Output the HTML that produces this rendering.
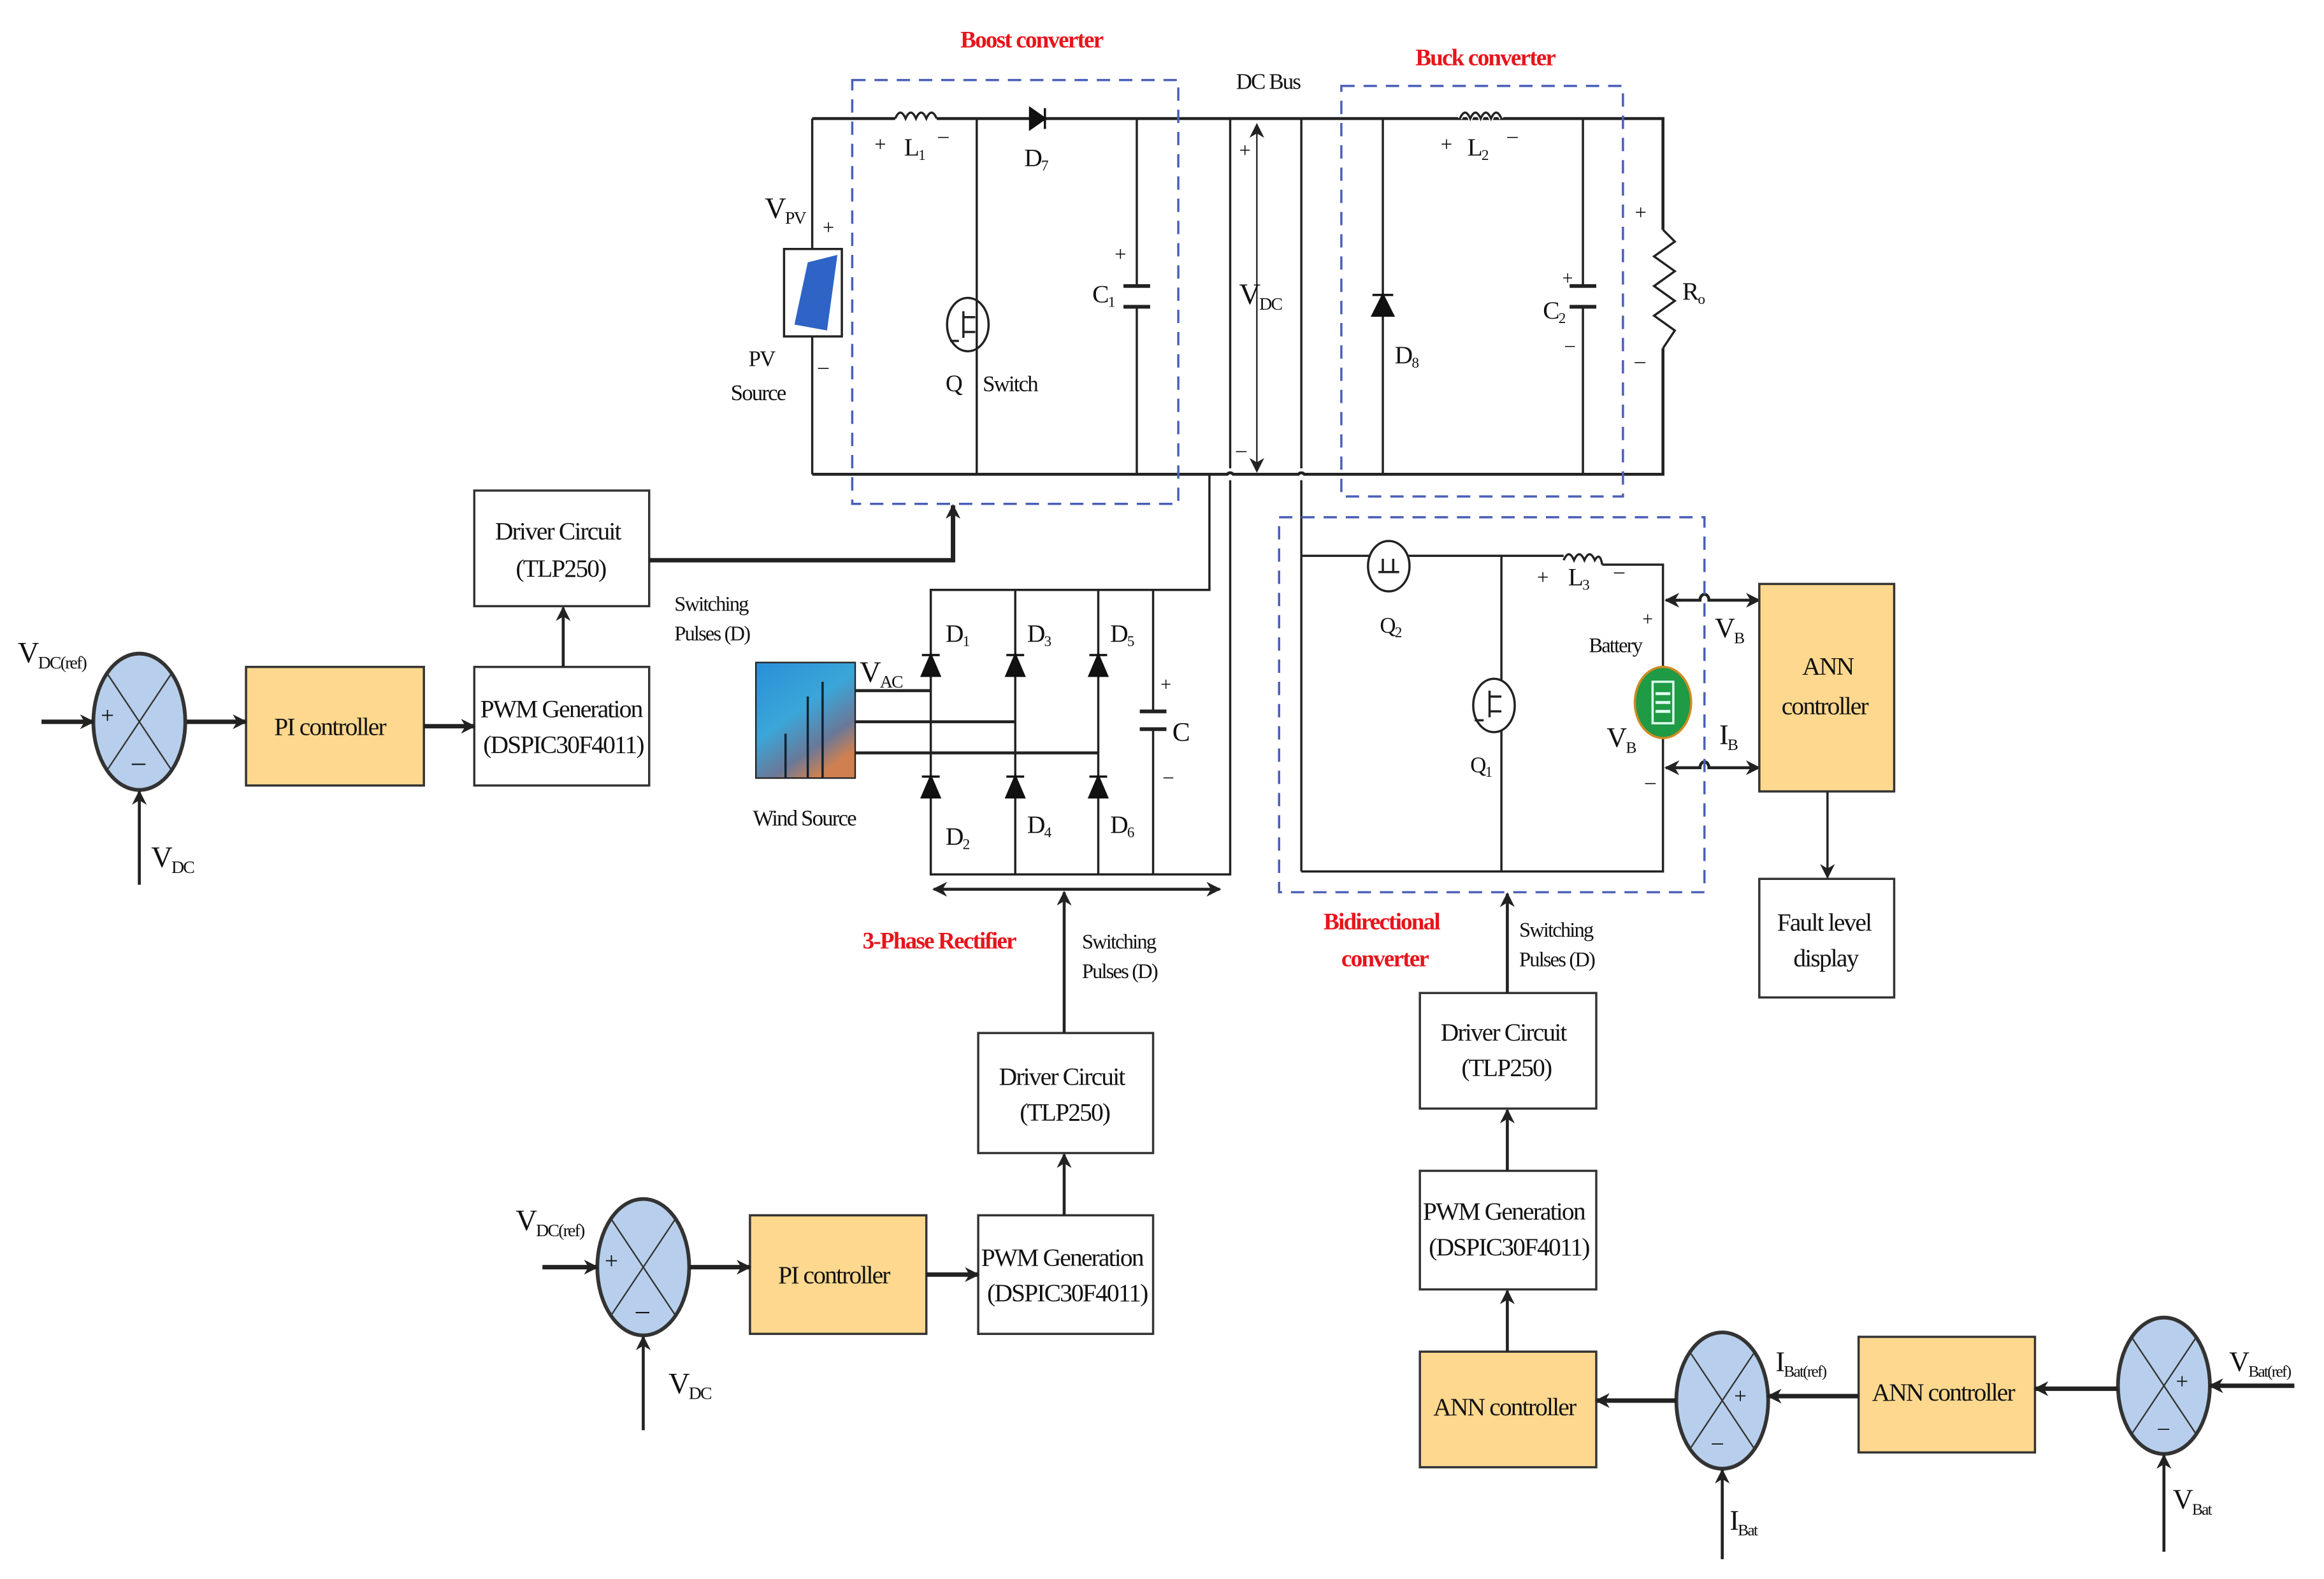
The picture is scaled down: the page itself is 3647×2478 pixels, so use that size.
<!DOCTYPE html>
<html><head><meta charset="utf-8"><style>
html,body{margin:0;padding:0;background:#fff;}
svg{display:block;}
text{font-family:"Liberation Serif",serif;fill:#111;}
.t{font-size:17px;letter-spacing:-0.8px;}
.r{fill:#e8141c;font-weight:bold;font-size:16px;letter-spacing:-0.8px;}
.s{font-size:10px;}
</style></head><body>
<svg width="3647" height="2478" viewBox="0 0 1568 1065.4" preserveAspectRatio="none" xmlns="http://www.w3.org/2000/svg">
<defs>
<marker id="a" markerWidth="10" markerHeight="10" refX="9" refY="5" orient="auto" markerUnits="userSpaceOnUse"><path d="M0,0 L10,5 L0,10 L3,5 z" fill="#222"/></marker>
<marker id="as" markerWidth="10" markerHeight="10" refX="1" refY="5" orient="auto" markerUnits="userSpaceOnUse"><path d="M10,0 L0,5 L10,10 L7,5 z" fill="#222"/></marker>
</defs>
<rect width="1568" height="1066" fill="#fff"/>
<g stroke="#222" fill="none" stroke-width="1.5">
<!-- top & bottom rails -->
<path d="M548,80 H604 M632,80 H1122 V155 M1122,235 V320 H880 A3,4 0 0 0 876,320 H832 A3,4 0 0 0 828,320 H548" stroke-width="2"/>
<path d="M548,80 V168 M548,227 V320" stroke-width="1.5"/>
<!-- L1 -->
<path d="M604,80 q3.5,-8 7,0 q3.5,-8 7,0 q3.5,-8 7,0 q3.5,-8 7,0" stroke-width="1.5"/>
<!-- Q boost -->
<line x1="659" y1="80" x2="659" y2="320"/>
<ellipse cx="653" cy="219" rx="14" ry="18"/>
<path d="M650,210 v18 M647,230 h-6 M650,214 h8 M650,224 h8"/>
<!-- C1 -->
<path d="M767,80 V193 M767,207 V320"/>
<path d="M758,193 h18 M758,207 h18" stroke-width="2.5"/>
<!-- DC bus lines -->
<path d="M830,80 V316 M830,324 V590 H816 M816,320 V398 H628 V590 H828" />
<path d="M878,80 V316 M878,324 V588"/>
<!-- VDC arrow -->
<line x1="848" y1="84" x2="848" y2="318" marker-start="url(#as)" marker-end="url(#a)" stroke-width="1"/>
<!-- buck -->
<path d="M933,80 V320 M1068,80 V193 M1068,207 V320"/>
<path d="M1059,193 h18 M1059,207 h18" stroke-width="2.5"/>
<path d="M985,80 q3.5,-8 7,0 q3.5,-8 7,0 q3.5,-8 7,0 q3.5,-8 7,0" stroke="#fff" stroke-width="3"/>
<path d="M985,80 q3.5,-8 7,0 q3.5,-8 7,0 q3.5,-8 7,0 q3.5,-8 7,0"/>
<path d="M1122,155 l8,8 l-14,10 l14,10 l-14,10 l14,10 l-14,10 l14,10 l-8,12" />
<!-- rectifier -->
<path d="M685,398 V590 M741,398 V590 M778,398 V480 M778,492 V590"/>
<path d="M769,480 h18 M769,492 h18" stroke-width="2.5"/>
<path d="M577,466 H628 M577,487 H685 M577,508 H741" stroke-width="2"/>
<line x1="630" y1="600" x2="823" y2="600" marker-start="url(#as)" marker-end="url(#a)" stroke-width="2"/>
<!-- bidirectional -->
<path d="M878,375 H1055 M1081,381 H1122 V588 H878"/>
<path d="M1055,378 q3.5,-8 7,0 q3.5,-8 7,0 q3.5,-8 7,0 q3.5,-6 5,3"/>
<ellipse cx="937" cy="382" rx="14" ry="17" fill="#fff"/>
<path d="M930,386 h14 M933,377 v9 M940,377 v9"/>
<path d="M1013,375 V588"/>
<ellipse cx="1008" cy="476" rx="14" ry="18" fill="#fff"/>
<path d="M1005,466 v18 M1001,486 h-6 M1005,470 h8 M1005,480 h8"/>
<!-- VB IB arrows -->
<path d="M1124,405 H1147 a3,4 0 0 1 6,0 H1187" stroke-width="2" marker-end="url(#a)"/>
<path d="M1124,405 h10" stroke-width="2" marker-start="url(#as)"/>
<path d="M1124,518 H1147 a3,4 0 0 1 6,0 H1187" stroke-width="2" marker-end="url(#a)"/>
<path d="M1124,518 h10" stroke-width="2" marker-start="url(#as)"/>
<!-- dashed boxes -->
<g stroke="#4a5fb8" stroke-dasharray="9,6" stroke-width="1.5">
<rect x="575" y="54" width="220" height="286"/>
<rect x="905" y="58" width="190" height="277"/>
<rect x="863" y="349" width="287" height="253"/>
</g>
</g>
<!-- diodes -->
<g fill="#111" stroke="#111" stroke-width="1.5">
<path d="M695,73 L705,80 L695,87 Z M705,73 V87"/>
<path d="M926,213 L933,199 L940,213 Z M926,199 H940"/>
<path d="M622,456 L628,442 L634,456 Z M622,442 H634"/>
<path d="M679,456 L685,442 L691,456 Z M679,442 H691"/>
<path d="M735,456 L741,442 L747,456 Z M735,442 H747"/>
<path d="M622,538 L628,524 L634,538 Z M622,524 H634"/>
<path d="M679,538 L685,524 L691,538 Z M679,524 H691"/>
<path d="M735,538 L741,524 L747,538 Z M735,524 H747"/>
</g>
<!-- PV panel -->
<rect x="529" y="168" width="39" height="59" fill="#fff" stroke="#222" stroke-width="1.5"/>
<path d="M545,177 L565,172 L558,223 L536,219 Z" fill="#2f64c6"/>
<!-- wind image -->
<defs><linearGradient id="w" x1="0" y1="0" x2="0.6" y2="1"><stop offset="0" stop-color="#2a8fd8"/><stop offset="0.5" stop-color="#3aa6d8"/><stop offset="0.8" stop-color="#6a7898"/><stop offset="1" stop-color="#d08050"/></linearGradient></defs>
<rect x="510" y="447" width="67" height="78" fill="url(#w)" stroke="#222"/>
<path d="M530,525 V495 M545,525 V470 M555,525 V460" stroke="#123" stroke-width="1.5"/>
<!-- battery -->
<ellipse cx="1122" cy="474" rx="19" ry="24" fill="#1f9a45" stroke="#d08a20" stroke-width="1.5"/>
<rect x="1115" y="460" width="14" height="28" fill="none" stroke="#dfe" stroke-width="1.5"/>
<path d="M1117,468 h10 M1117,474 h10 M1117,480 h10" stroke="#dfe" stroke-width="2"/>
<!-- blocks -->
<g stroke="#333" stroke-width="1.5">
<rect x="320" y="331" width="118" height="78" fill="#fff"/>
<rect x="320" y="450" width="118" height="80" fill="#fff"/>
<rect x="166" y="450" width="120" height="80" fill="#fdd88e"/>
<rect x="660" y="697" width="118" height="81" fill="#fff"/>
<rect x="660" y="820" width="118" height="80" fill="#fff"/>
<rect x="506" y="820" width="119" height="80" fill="#fdd88e"/>
<rect x="1187" y="394" width="91" height="140" fill="#fdd88e"/>
<rect x="1187" y="593" width="91" height="80" fill="#fff"/>
<rect x="958" y="670" width="119" height="78" fill="#fff"/>
<rect x="958" y="790" width="119" height="80" fill="#fff"/>
<rect x="958" y="912" width="119" height="78" fill="#fdd88e"/>
<rect x="1254" y="902" width="119" height="78" fill="#fdd88e"/>
</g>
<!-- summers -->
<g stroke="#333" stroke-width="2.5" fill="#b7cfec">
<ellipse cx="94" cy="487" rx="31" ry="46"/>
<ellipse cx="434" cy="855" rx="31" ry="46"/>
<ellipse cx="1162" cy="945" rx="31" ry="46"/>
<ellipse cx="1460" cy="935" rx="31" ry="46"/>
</g>
<g stroke="#333" stroke-width="1">
<path d="M72,454 L116,520 M116,454 L72,520"/>
<path d="M412,822 L456,888 M456,822 L412,888"/>
<path d="M1140,912 L1184,978 M1184,912 L1140,978"/>
<path d="M1438,902 L1482,968 M1482,902 L1438,968"/>
</g>
<!-- control arrows -->
<g stroke="#222" stroke-width="3" fill="none">
<line x1="28" y1="487" x2="63" y2="487" marker-end="url(#a)"/>
<line x1="126" y1="487" x2="166" y2="487" marker-end="url(#a)"/>
<line x1="286" y1="490" x2="320" y2="490" marker-end="url(#a)"/>
<line x1="366" y1="855" x2="403" y2="855" marker-end="url(#a)"/>
<line x1="465" y1="855" x2="506" y2="855" marker-end="url(#a)"/>
<line x1="625" y1="860" x2="660" y2="860" marker-end="url(#a)"/>
<line x1="1548" y1="935" x2="1491" y2="935" marker-end="url(#a)"/>
<line x1="1429" y1="937" x2="1373" y2="937" marker-end="url(#a)"/>
<line x1="1254" y1="942" x2="1193" y2="942" marker-end="url(#a)"/>
<line x1="1131" y1="945" x2="1077" y2="945" marker-end="url(#a)"/>
<path d="M438,378 H643 V341" marker-end="url(#a)"/>
</g>
<g stroke="#222" stroke-width="2" fill="none">
<line x1="94" y1="597" x2="94" y2="534" marker-end="url(#a)"/>
<line x1="434" y1="965" x2="434" y2="902" marker-end="url(#a)"/>
<line x1="1162" y1="1052" x2="1162" y2="992" marker-end="url(#a)"/>
<line x1="1460" y1="1047" x2="1460" y2="982" marker-end="url(#a)"/>
<line x1="718" y1="697" x2="718" y2="602" marker-end="url(#a)"/>
<line x1="718" y1="820" x2="718" y2="779" marker-end="url(#a)"/>
<line x1="380" y1="450" x2="380" y2="410" marker-end="url(#a)"/>
<line x1="1017" y1="670" x2="1017" y2="603" marker-end="url(#a)"/>
<line x1="1017" y1="790" x2="1017" y2="749" marker-end="url(#a)"/>
<line x1="1017" y1="912" x2="1017" y2="871" marker-end="url(#a)"/>
<line x1="1233" y1="534" x2="1233" y2="592" marker-end="url(#a)" stroke-width="1.5"/>
</g>
<!-- text -->
<g class="t">
<text x="648" y="32" class="r">Boost converter</text>
<text x="955" y="44" class="r">Buck converter</text>
<text x="582" y="640" class="r" font-size="15">3-Phase Rectifier</text>
<text x="893" y="627" class="r">Bidirectional</text>
<text x="905" y="652" class="r">converter</text>
<text x="834" y="60" font-size="15">DC Bus</text>
<text x="516" y="147" font-size="20">V<tspan font-size="12" dy="4">PV</tspan></text>
<text x="555" y="158" font-size="14">+</text>
<text x="552" y="252" font-size="14">–</text>
<text x="505" y="247" font-size="15">PV</text>
<text x="493" y="270" font-size="15">Source</text>
<text x="590" y="102" font-size="14">+</text><text x="610" y="105">L<tspan class="s" dy="3">1</tspan></text><text x="633" y="96" font-size="14">–</text>
<text x="691" y="112">D<tspan class="s" dy="3">7</tspan></text>
<text x="638" y="264" font-size="16">Q</text><text x="663" y="264" font-size="15">Switch</text>
<text x="752" y="176" font-size="14">+</text>
<text x="737" y="204">C<tspan class="s" dy="3">1</tspan></text>
<text x="836" y="106" font-size="14">+</text><text x="834" y="308" font-size="14">–</text>
<text x="836" y="205" font-size="20">V<tspan font-size="12" dy="4">DC</tspan></text>
<text x="972" y="102" font-size="14">+</text><text x="990" y="105">L<tspan class="s" dy="3">2</tspan></text><text x="1017" y="96" font-size="14">–</text>
<text x="941" y="245">D<tspan class="s" dy="3">8</tspan></text>
<text x="1054" y="192" font-size="13">+</text><text x="1056" y="237" font-size="13">–</text>
<text x="1041" y="215">C<tspan class="s" dy="3">2</tspan></text>
<text x="1103" y="148" font-size="14">+</text><text x="1103" y="248" font-size="14">–</text>
<text x="1135" y="202">R<tspan class="s" dy="3">o</tspan></text>
<text x="334" y="364">Driver Circuit</text><text x="348" y="389">(TLP250)</text>
<text x="455" y="412" font-size="14">Switching</text><text x="455" y="432" font-size="14">Pulses (D)</text>
<text x="324" y="484">PWM Generation</text><text x="326" y="508">(DSPIC30F4011)</text>
<text x="185" y="496">PI controller</text>
<text x="12" y="447" font-size="20">V<tspan font-size="12" dy="4">DC(ref)</tspan></text>
<text x="68" y="488" font-size="16">+</text><text x="89" y="520" font-size="18">–</text>
<text x="102" y="585" font-size="20">V<tspan font-size="12" dy="4">DC</tspan></text>
<text x="638" y="433">D<tspan class="s" dy="3">1</tspan></text><text x="693" y="433">D<tspan class="s" dy="3">3</tspan></text><text x="749" y="433">D<tspan class="s" dy="3">5</tspan></text>
<text x="638" y="570">D<tspan class="s" dy="3">2</tspan></text><text x="693" y="562">D<tspan class="s" dy="3">4</tspan></text><text x="749" y="562">D<tspan class="s" dy="3">6</tspan></text>
<text x="580" y="460" font-size="20">V<tspan font-size="12" dy="4">AC</tspan></text>
<text x="508" y="557" font-size="15">Wind Source</text>
<text x="783" y="466" font-size="13">+</text><text x="785" y="528" font-size="13">–</text>
<text x="791" y="500" font-size="18">C</text>
<text x="730" y="640" font-size="14">Switching</text><text x="730" y="660" font-size="14">Pulses (D)</text>
<text x="674" y="732">Driver Circuit</text><text x="688" y="756">(TLP250)</text>
<text x="662" y="854">PWM Generation</text><text x="666" y="878">(DSPIC30F4011)</text>
<text x="525" y="866">PI controller</text>
<text x="348" y="830" font-size="20">V<tspan font-size="12" dy="4">DC(ref)</tspan></text>
<text x="408" y="856" font-size="16">+</text><text x="429" y="890" font-size="18">–</text>
<text x="451" y="940" font-size="20">V<tspan font-size="12" dy="4">DC</tspan></text>
<text x="1037" y="394" font-size="14">+</text><text x="1058" y="395">L<tspan class="s" dy="3">3</tspan></text><text x="1089" y="390" font-size="14">–</text>
<text x="931" y="427" font-size="15">Q<tspan class="s" dy="3">2</tspan></text>
<text x="992" y="521" font-size="15">Q<tspan class="s" dy="3">1</tspan></text>
<text x="1108" y="422" font-size="13">+</text>
<text x="1072" y="440" font-size="14">Battery</text>
<text x="1084" y="504" font-size="19">V<tspan font-size="11" dy="4">B</tspan></text>
<text x="1110" y="532" font-size="14">–</text>
<text x="1157" y="430" font-size="19">V<tspan font-size="11" dy="4">B</tspan></text>
<text x="1160" y="502" font-size="19">I<tspan font-size="11" dy="4">B</tspan></text>
<text x="1216" y="455">ANN</text><text x="1202" y="482">controller</text>
<text x="1199" y="628">Fault level</text><text x="1210" y="652">display</text>
<text x="1025" y="632" font-size="14">Switching</text><text x="1025" y="652" font-size="14">Pulses (D)</text>
<text x="972" y="702">Driver Circuit</text><text x="986" y="726">(TLP250)</text>
<text x="960" y="823">PWM Generation</text><text x="964" y="847">(DSPIC30F4011)</text>
<text x="967" y="955">ANN controller</text>
<text x="1263" y="945">ANN controller</text>
<text x="1198" y="925" font-size="19">I<tspan font-size="11" dy="4">Bat(ref)</tspan></text>
<text x="1504" y="925" font-size="19">V<tspan font-size="11" dy="4">Bat(ref)</tspan></text>
<text x="1170" y="947" font-size="15">+</text><text x="1155" y="978" font-size="15">–</text>
<text x="1468" y="937" font-size="15">+</text><text x="1456" y="968" font-size="15">–</text>
<text x="1167" y="1032" font-size="19">I<tspan font-size="11" dy="4">Bat</tspan></text>
<text x="1466" y="1018" font-size="19">V<tspan font-size="11" dy="4">Bat</tspan></text>
</g>
</svg>
</body></html>
